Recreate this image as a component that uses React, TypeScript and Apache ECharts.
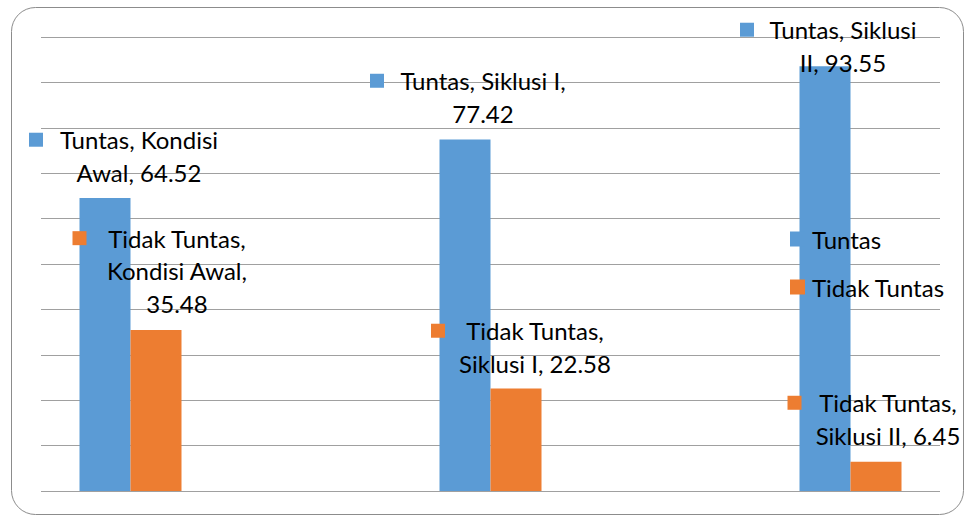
import { useEffect, useRef } from "react";
import * as echarts from "echarts";

const categories = ["Kondisi Awal", "Siklusi I", "Siklusi II"];
const seriesNames = ["Tuntas", "Tidak Tuntas"];
const tuntasValues = [64.52, 77.42, 93.55];
const tidakTuntasValues = [35.48, 22.58, 6.45];
const yMin = 0;
const yMax = 100;
const yInterval = 10;
// category positions on the x axis are their indices; the plot extends a bit beyond
const xMin = -0.2486;
const xMax = 2.2486;

const colors = ["#5B9BD5", "#ED7D31"];
const FONT = "Lato";
const FS = 24;
const LH = 32.5;

// label layout per series, per category: words per line, text box width, offset from bar top
const labelLayout = [
  [
    { lines: [2, 2], w: 164, dx: 20, dy: -9.6 },
    { lines: [3, 1], w: 170, dx: 4, dy: -10 },
    { lines: [2, 2], w: 150, dx: 4, dy: 12.2 },
  ],
  [
    { lines: [2, 2, 1], w: 153, dx: 7, dy: -10.5 },
    { lines: [2, 3], w: 152, dx: 5, dy: -9 },
    { lines: [2, 3], w: 145, dx: -2, dy: -10.2 },
  ],
];

function buildItem(si: number, ci: number, value: number) {
  const lay = labelLayout[si][ci];
  const full = `${seriesNames[si]}, ${categories[ci]}, ${value.toFixed(2)}`;
  const words = full.split(" ");
  const lines: string[] = [];
  let k = 0;
  for (const n of lay.lines) {
    lines.push(words.slice(k, k + n).join(" "));
    k += n;
  }
  const formatter = lines
    .map((l, i) => (i === 0 ? `{sq|}{g|}{t|${l}}` : `{s|}{t|${l}}`))
    .join("\n");
  return {
    value: [ci, value],
    label: {
      show: true,
      position: "top",
      distance: 0,
      offset: [lay.dx, lay.dy],
      formatter,
      rich: {
        sq: { width: 14, height: 14, backgroundColor: colors[si], align: "left" },
        g: { width: 14, align: "left", lineHeight: LH },
        s: { width: 28, align: "left", lineHeight: LH },
        t: {
          width: lay.w,
          align: "center",
          fontFamily: FONT,
          fontSize: FS,
          color: "#000",
          lineHeight: LH,
        },
      },
    },
  };
}

export default function App() {
  const ref = useRef<HTMLDivElement>(null);
  useEffect(() => {
    document.body.style.margin = "0";
    if (!ref.current) return;
    const chart = echarts.init(ref.current, null, { renderer: "svg" });
    const option: any = {
      animation: false,
      backgroundColor: "#fff",
      graphic: [
        {
          type: "rect",
          shape: { x: 11.5, y: 7.5, width: 952, height: 507, r: 24 },
          style: { fill: "none", stroke: "#8c8c8c", lineWidth: 1 },
          silent: true,
          z: -10,
        },
      ],
      legend: {
        orient: "vertical",
        left: 785,
        top: 217.5,
        itemWidth: 15,
        itemHeight: 15,
        itemGap: 15,
        icon: "rect",
        data: seriesNames,
        textStyle: {
          fontFamily: FONT,
          fontSize: FS,
          color: "#000",
          lineHeight: 33,
          padding: [0, 0, 0, 2],
        },
      },
      grid: { left: 41, width: 899, top: 37, height: 454 },
      xAxis: { type: "value", min: xMin, max: xMax, show: false, splitLine: { show: false } },
      yAxis: {
        type: "value",
        min: yMin,
        max: yMax,
        interval: yInterval,
        axisLabel: { show: false },
        axisLine: { show: false },
        axisTick: { show: false },
        splitLine: { show: true, lineStyle: { color: "#a0a0a0", width: 1 } },
      },
      series: [
        {
          name: seriesNames[0],
          type: "bar",
          barWidth: 51,
          barGap: "0%",
          itemStyle: { color: colors[0] },
          data: tuntasValues.map((v, i) => buildItem(0, i, v)),
        },
        {
          name: seriesNames[1],
          type: "bar",
          barWidth: 51,
          barGap: "0%",
          itemStyle: { color: colors[1] },
          data: tidakTuntasValues.map((v, i) => buildItem(1, i, v)),
        },
      ],
    };
    chart.setOption(option);
    return () => chart.dispose();
  }, []);
  return <div ref={ref} style={{ width: 966, height: 517 }} />;
}
